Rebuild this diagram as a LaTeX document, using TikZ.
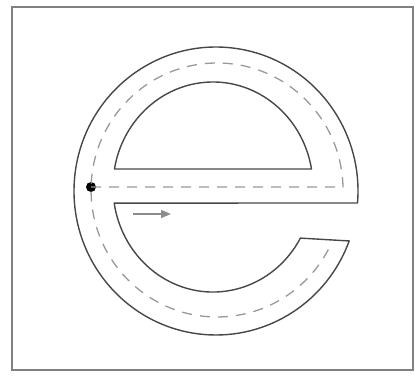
\documentclass[tikz,border=0pt]{standalone}
\usetikzlibrary{arrows.meta}
\begin{document}
\begin{tikzpicture}[x=1pt,y=1pt,
  outline/.style={draw=black!72, line width=1.4pt, line join=round},
  guide/.style={draw=black!40, line width=1.3pt, dash pattern=on 10pt off 8pt},
  frame/.style={draw=black!50, line width=1.8pt},
  dirarrow/.style={draw=black!45, line width=1.5pt, -{Triangle[length=10pt,width=8pt]}},
  startdot/.style={fill=black, circle, inner sep=0pt, minimum size=10pt}]
\useasboundingbox (0,0) rectangle (415,376);
\draw[frame] (12,6) rectangle (413,369);
% outer contour of the letter e
\draw[outline] (357.5,173)
  arc[start angle=-4.78, end angle=339.7, x radius=142pt, y radius=144pt]
  -- (300.4,137.9)
  arc[start angle=330.9, end angle=188.8, x radius=100pt, y radius=105pt]
  -- cycle;
% inner counter (eye)
\draw[outline] (311.5,207)
  arc[start angle=9.87, end angle=170.13, x radius=100pt, y radius=105pt]
  -- cycle;
% dashed guide path
\node[startdot] (start) at (91,189) {};
\coordinate (barend) at (343,189);
\draw[guide] (start.center) -- (barend)
  arc[start angle=1.35, end angle=334, x radius=126pt, y radius=127pt];
% direction arrow
\coordinate (a1) at (133,162);
\coordinate (a2) at (171,162);
\draw[dirarrow] (a1) -- (a2);
\end{tikzpicture}
\end{document}
